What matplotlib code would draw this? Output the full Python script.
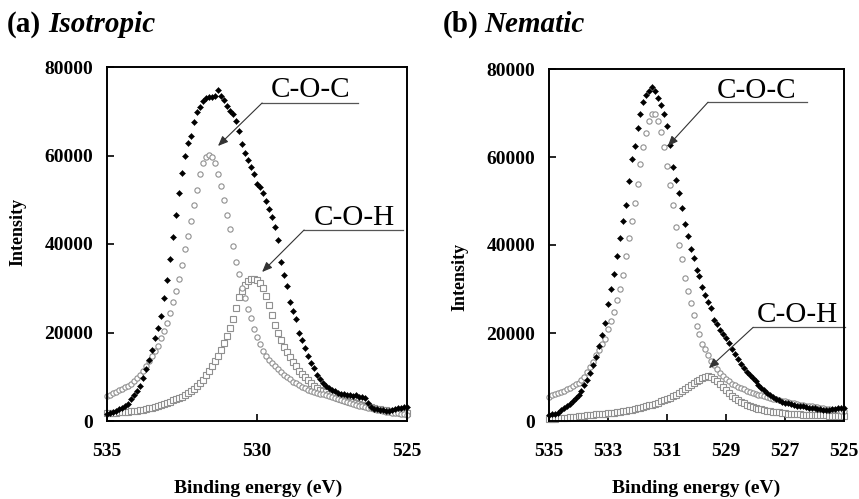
import numpy as np
import matplotlib
matplotlib.use("Agg")
import matplotlib.pyplot as plt

plt.rcParams['font.family'] = ['Liberation Serif', 'DejaVu Serif']

# binding energy grid, 535 -> 525 eV in 0.1 eV steps
energy = np.linspace(535.0, 525.0, 101)

# (a) Isotropic
iso_total = [1600, 1800, 2000, 2200, 2600, 2900, 3300, 3900, 4900, 5800,
             6700, 8000, 9800, 11800, 13800, 16000, 18800, 21000, 23800, 27800,
             31800, 36500, 41500, 46500, 51500, 56000, 59800, 62800, 64500, 67500,
             69800, 71000, 72400, 73000, 73300, 73300, 73500, 74800, 73500, 72500,
             71200, 70000, 69300, 67800, 65600, 62600, 60500, 59000, 57400, 55800,
             53500, 52800, 51500, 49800, 48000, 46000, 43800, 40800, 36000, 33000,
             30500, 27000, 24800, 23000, 20000, 18200, 16500, 14800, 13200, 11900,
             10400, 9400, 8600, 8000, 7500, 7100, 6700, 6400, 6200, 6100,
             5900, 5800, 5700, 5800, 5500, 5400, 5100, 4000, 3200, 2800,
             2600, 2500, 2400, 2300, 2300, 2400, 2700, 2900, 3000, 3100,
             3200]
iso_coc = [5600, 5900, 6300, 6600, 6900, 7200, 7600, 8000, 8400, 9000,
           9700, 10500, 11400, 12500, 13600, 14700, 15900, 17000, 18700, 20400,
           22200, 24500, 26800, 29300, 32000, 35300, 38800, 41800, 45300, 48800,
           52200, 55800, 58200, 59600, 60100, 59600, 58200, 55800, 53200, 50000,
           46500, 43500, 39600, 36000, 33200, 30000, 27700, 25300, 23200, 20900,
           18900, 17300, 15800, 14600, 13700, 13000, 12400, 11700, 11100, 10500,
           10000, 9400, 8900, 8500, 8100, 7700, 7400, 7100, 6800, 6600,
           6400, 6200, 6000, 5800, 5600, 5400, 5200, 4900, 4700, 4500,
           4300, 4100, 3900, 3700, 3500, 3300, 3200, 3000, 2900, 2700,
           2500, 2400, 2200, 2100, 2000, 1900, 1800, 1700, 1600, 1500,
           1400]
iso_coh = [1700, 1750, 1800, 1900, 1950, 2000, 2050, 2100, 2200, 2250,
           2300, 2450, 2550, 2700, 2850, 3000, 3200, 3400, 3600, 3850,
           4100, 4400, 4700, 5000, 5200, 5500, 5900, 6300, 6800, 7300,
           7800, 8500, 9300, 10300, 11400, 12500, 13600, 14700, 16000, 17600,
           19200, 21000, 23000, 25600, 28000, 29400, 30700, 31600, 32000, 32000,
           31900, 31100, 30000, 28300, 26200, 23900, 21800, 19900, 18200, 16800,
           15500, 14400, 13300, 12400, 11400, 10600, 10000, 9300, 8700, 8000,
           7500, 7100, 6800, 6500, 6200, 5900, 5600, 5300, 5000, 4800,
           4600, 4400, 4200, 4000, 3800, 3600, 3400, 3300, 3100, 2900,
           2700, 2600, 2500, 2400, 2300, 2200, 2100, 2000, 1900, 1800,
           1700]

# (b) Nematic
nem_total = [1400, 1600, 1700, 1900, 2400, 3000, 3400, 3800, 4500, 5200,
             5900, 6900, 8200, 9300, 11000, 12700, 14500, 17000, 19500, 22200,
             26500, 30000, 33400, 37400, 41500, 45400, 49000, 54500, 59500, 62500,
             66500, 69800, 72400, 74000, 75000, 75800, 75000, 73500, 71800, 69700,
             67000, 62700, 57800, 54800, 51800, 48500, 44800, 42000, 39000, 37000,
             34400, 33000, 30500, 28700, 27000, 25700, 23000, 22000, 20700, 19700,
             18800, 17800, 16300, 15200, 14000, 13000, 12100, 11100, 10400, 9800,
             9000, 8200, 7600, 7000, 6400, 5900, 5400, 5000, 4700, 4400,
             4200, 4000, 3800, 3700, 3500, 3400, 3300, 3200, 3000, 2900,
             2900, 2800, 2700, 2600, 2600, 2600, 2700, 2800, 2900, 2900,
             3000]
nem_coc = [5500, 5800, 6100, 6300, 6600, 6900, 7200, 7600, 7900, 8300,
           8600, 9300, 9900, 11200, 12200, 13500, 14900, 16200, 17400, 18700,
           20800, 22700, 24700, 27500, 30000, 33200, 37500, 41500, 45500, 49500,
           53800, 58500, 62200, 65500, 68200, 69700, 69700, 68200, 65600, 62200,
           58000, 53600, 49000, 44000, 40000, 36800, 32500, 29500, 26800, 24000,
           21700, 19700, 17600, 16300, 14900, 13600, 12700, 11800, 10900, 10200,
           9600, 9000, 8500, 8100, 7800, 7500, 7200, 6900, 6600, 6400,
           6200, 6000, 5800, 5600, 5400, 5300, 5100, 4900, 4800, 4600,
           4500, 4400, 4200, 4000, 3900, 3700, 3600, 3500, 3400, 3300,
           3200, 3100, 3000, 2900, 2800, 2700, 2600, 2500, 2400, 2300,
           2200]
nem_coh = [500, 520, 550, 580, 620, 680, 740, 800, 880, 950,
           1050, 1150, 1250, 1300, 1380, 1450, 1550, 1600, 1650, 1700,
           1750, 1800, 1900, 2000, 2100, 2200, 2300, 2450, 2600, 2750,
           2900, 3000, 3150, 3350, 3550, 3750, 3950, 4200, 4450, 4700,
           5000, 5300, 5600, 6000, 6400, 6900, 7300, 7700, 8100, 8600,
           9000, 9400, 9800, 10100, 10200, 10000, 9600, 9000, 8300, 7700,
           7000, 6300, 5700, 5200, 4700, 4300, 4000, 3700, 3400, 3200,
           3000, 2800, 2650, 2500, 2350, 2250, 2150, 2050, 1950, 1850,
           1750, 1700, 1650, 1600, 1550, 1500, 1450, 1420, 1400, 1380,
           1350, 1330, 1300, 1280, 1260, 1240, 1220, 1200, 1190, 1180,
           1170]

W, H = 859, 499
fig = plt.figure(figsize=(W / 100, H / 100), dpi=100)


def fx(px):
    return px / W


def fy(py):
    return 1 - py / H


def draw_panel(ax, total, coc, coh, xticks, labels):
    gray = '#909090'
    ax.plot(energy, coh, linestyle='none', marker='s', ms=3.8, mfc='white',
            mec=gray, mew=0.8, clip_on=False)
    ax.plot(energy, coc, linestyle='none', marker='o', ms=3.8, mfc='white',
            mec=gray, mew=0.8, clip_on=False)
    ax.plot(energy, total, linestyle='none', marker='D', ms=3.1, color='black',
            mew=0.3, clip_on=False)
    ax.set_xlim(535, 525)
    ax.set_ylim(0, 80000)
    ax.set_xticks(xticks)
    ax.set_yticks([0, 20000, 40000, 60000, 80000])
    ax.tick_params(direction='in', length=5, width=1.2, labelsize=14, color='black')
    ax.tick_params(axis='x', pad=16)
    ax.tick_params(axis='y', pad=10)
    for lab in ax.get_xticklabels() + ax.get_yticklabels():
        lab.set_fontweight('bold')
    for sp in ax.spines.values():
        sp.set_linewidth(1.4)
    # leader labels
    for text, tx, ty, x0, x1, yl, tipx, tipy in labels:
        ax.text(tx, ty, text, ha='center', va='baseline', fontsize=21)
        ax.plot([x0, x1], [yl, yl], color='#555555', lw=0.9, clip_on=False)
        ax.annotate('', xy=(tipx, tipy), xytext=(x0, yl),
                    arrowprops=dict(arrowstyle='-|>,head_length=0.6,head_width=0.25',
                                    color='#333333', lw=0.8, shrinkA=0, shrinkB=0))


ax1 = fig.add_axes([fx(107), fy(421), fx(407) - fx(107), fy(67) - fy(421)])
draw_panel(ax1, iso_total, iso_coc, iso_coh, [535, 530, 525],
           [('C-O-C', 528.2, 73200, 529.83, 526.63, 71870, 531.3, 62150),
            ('C-O-H', 526.77, 44300, 528.43, 525.13, 43170, 529.83, 33670)])

ax2 = fig.add_axes([fx(549), fy(421), fx(844) - fx(549), fy(69) - fy(421)])
draw_panel(ax2, nem_total, nem_coc, nem_coh, [535, 533, 531, 529, 527, 525],
           [('C-O-C', 527.98, 73350, 529.61, 526.25, 72450, 530.97, 62490),
            ('C-O-H', 526.58, 22400, 528.08, 524.97, 21280, 529.58, 12000)])

# titles
fig.text(fx(7), fy(32), '(a)', fontsize=21, fontweight='bold', va='baseline')
fig.text(fx(48), fy(32), 'Isotropic', fontsize=21, fontweight='bold',
         style='italic', va='baseline')
fig.text(fx(443), fy(32), '(b)', fontsize=21, fontweight='bold', va='baseline')
fig.text(fx(484), fy(32), 'Nematic', fontsize=21, fontweight='bold',
         style='italic', va='baseline')

# axis labels
fig.text(fx(258), fy(493), 'Binding energy (eV)', fontsize=14, fontweight='bold',
         ha='center', va='baseline')
fig.text(fx(696), fy(493), 'Binding energy (eV)', fontsize=14, fontweight='bold',
         ha='center', va='baseline')
fig.text(fx(18), fy(232), 'Intensity', fontsize=13, fontweight='bold',
         rotation=90, ha='center', va='center')
fig.text(fx(460), fy(277), 'Intensity', fontsize=13, fontweight='bold',
         rotation=90, ha='center', va='center')

plt.savefig('out.png', dpi=100)
plt.close()
